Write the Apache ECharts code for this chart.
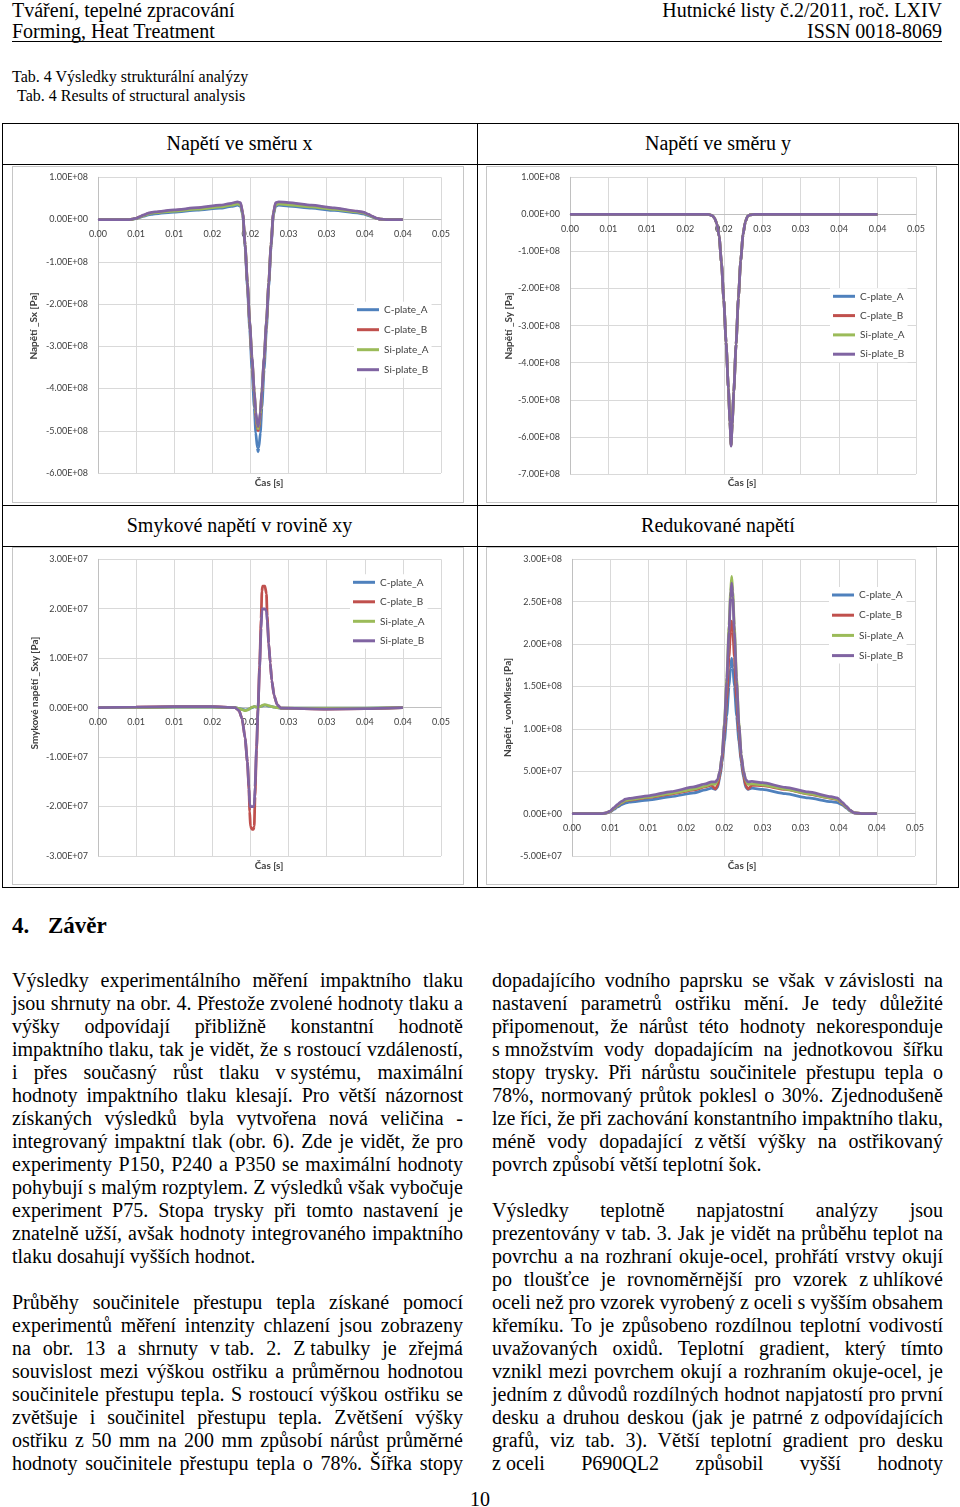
<!DOCTYPE html>
<html><head><meta charset="utf-8">
<script src="https://cdn.jsdelivr.net/npm/echarts@6/dist/echarts.min.js"></script>
<style>
html,body{margin:0;padding:0;background:#fff;}
body{width:960px;height:1507px;position:relative;overflow:hidden;font-family:'Liberation Serif','Times New Roman',serif;color:#000;}
.t{position:absolute;white-space:nowrap;font-size:20px;line-height:23px;}
.bt{position:absolute;white-space:nowrap;font-size:20px;line-height:23px;transform-origin:0 0;}
.nb{word-spacing:0;}
.hl{position:absolute;background:#000;height:1px;}
.vl{position:absolute;background:#000;width:1px;}
.frame{position:absolute;border:1px solid #c6c6c6;box-sizing:border-box;}
.ch{position:absolute;}
</style></head>
<body>
<!-- page header -->
<div class="t" style="left:12px;top:-1px;">Tváření, tepelné zpracování</div>
<div class="t" style="left:12px;top:20px;">Forming, Heat Treatment</div>
<div class="t" style="right:18px;top:-1px;">Hutnické listy č.2/2011, roč. LXIV</div>
<div class="t" style="right:18px;top:20px;">ISSN 0018-8069</div>
<div class="hl" style="left:12px;top:41px;width:930px;"></div>

<div class="t" style="left:12px;top:67px;font-size:16px;line-height:19px;">Tab. 4 Výsledky strukturální analýzy</div>
<div class="t" style="left:17px;top:86px;font-size:16px;line-height:19px;">Tab. 4 Results of structural analysis</div>

<!-- table -->
<div class="hl" style="left:2px;top:123px;width:957px;"></div>
<div class="hl" style="left:2px;top:164px;width:957px;"></div>
<div class="hl" style="left:2px;top:505px;width:957px;"></div>
<div class="hl" style="left:2px;top:546px;width:957px;"></div>
<div class="hl" style="left:2px;top:887px;width:957px;"></div>
<div class="vl" style="left:2px;top:123px;height:765px;"></div>
<div class="vl" style="left:477px;top:123px;height:765px;"></div>
<div class="vl" style="left:958px;top:123px;height:765px;"></div>

<div class="t" style="left:2px;width:475px;text-align:center;top:131.75px;">Napětí ve směru x</div>
<div class="t" style="left:478px;width:480px;text-align:center;top:131.75px;">Napětí ve směru y</div>
<div class="t" style="left:2px;width:475px;text-align:center;top:513.75px;">Smykové napětí v rovině xy</div>
<div class="t" style="left:478px;width:480px;text-align:center;top:513.75px;">Redukované napětí</div>

<div class="frame" style="left:12px;top:166px;width:452px;height:337px;"></div>
<div class="frame" style="left:486px;top:166px;width:451px;height:337px;"></div>
<div class="frame" style="left:12px;top:547px;width:452px;height:338px;"></div>
<div class="frame" style="left:486px;top:547px;width:451px;height:338px;"></div>
<div id="c1" class="ch" style="left:13px;top:167px;width:450px;height:335px;"></div>
<div id="c2" class="ch" style="left:487px;top:167px;width:449px;height:335px;"></div>
<div id="c3" class="ch" style="left:13px;top:548px;width:450px;height:336px;"></div>
<div id="c4" class="ch" style="left:487px;top:548px;width:449px;height:336px;"></div>

<div class="t" style="left:12px;top:911.7px;font-size:23px;line-height:27px;font-weight:bold;">4.</div>
<div class="t" style="left:48px;top:911.7px;font-size:23px;line-height:27px;font-weight:bold;">Závěr</div>

<div class="t" style="left:0;width:960px;text-align:center;top:1488px;">10</div>

<script>
// ---------- shared chart data ----------
const SERIES_NAMES = ['C-plate_A', 'C-plate_B', 'Si-plate_A', 'Si-plate_B'];
const COLORS = ['#4F81BD', '#C0504D', '#9BBB59', '#8064A2'];
const X_TICK_LABELS = ['0.00', '0.01', '0.01', '0.02', '0.02', '0.03', '0.03', '0.04', '0.04', '0.05'];

// ---------- Napětí ve směru x (Sx) ----------
const sxTime = [0, 0.002, 0.004, 0.0045, 0.005, 0.0055, 0.006, 0.0065, 0.007, 0.0075, 0.010, 0.013, 0.016, 0.0175, 0.0183, 0.0187, 0.0190, 0.0193, 0.0196, 0.0199, 0.0202, 0.0205, 0.0207, 0.0209, 0.0210, 0.0211, 0.0213, 0.0215, 0.0218, 0.0221, 0.0224, 0.0227, 0.0230, 0.0233, 0.0237, 0.025, 0.028, 0.031, 0.034, 0.0348, 0.0355, 0.036, 0.0365, 0.037, 0.038, 0.040];
const sxCA = [0, 0, 0, 0.05e7, 0.2e7, 0.5e7, 0.8e7, 1.05e7, 1.25e7, 1.35e7, 1.75e7, 2.2e7, 2.7e7, 3.1e7, 3.4e7, 3.2e7, 1.0e7, -6.5e7, -1.6e8, -2.6e8, -3.55e8, -4.45e8, -5.05e8, -5.4e8, -5.5e8, -5.4e8, -5.05e8, -4.45e8, -3.55e8, -2.6e8, -1.6e8, -6.5e7, 1.0e7, 3.2e7, 3.4e7, 3.2e7, 2.7e7, 2.15e7, 1.6e7, 1.35e7, 0.95e7, 0.6e7, 0.3e7, 0.08e7, 0, 0];
const sxCB = [0, 0, 0, 0.08e7, 0.28e7, 0.65e7, 1.0e7, 1.35e7, 1.6e7, 1.7e7, 2.15e7, 2.65e7, 3.2e7, 3.65e7, 4.0e7, 3.8e7, 1.4e7, -6e7, -1.5e8, -2.45e8, -3.3e8, -4.1e8, -4.65e8, -4.95e8, -5.0e8, -4.95e8, -4.65e8, -4.1e8, -3.3e8, -2.45e8, -1.5e8, -6e7, 1.4e7, 3.8e7, 4.0e7, 3.8e7, 3.25e7, 2.6e7, 1.9e7, 1.65e7, 1.15e7, 0.7e7, 0.33e7, 0.1e7, 0, 0];
const sxSA = [0, 0, 0, 0.07e7, 0.25e7, 0.6e7, 0.95e7, 1.25e7, 1.5e7, 1.6e7, 2.0e7, 2.45e7, 3.0e7, 3.4e7, 3.7e7, 3.5e7, 1.2e7, -6e7, -1.5e8, -2.42e8, -3.28e8, -4.08e8, -4.6e8, -4.9e8, -4.95e8, -4.9e8, -4.6e8, -4.08e8, -3.28e8, -2.42e8, -1.5e8, -6e7, 1.2e7, 3.5e7, 3.7e7, 3.5e7, 3.0e7, 2.4e7, 1.8e7, 1.55e7, 1.1e7, 0.65e7, 0.3e7, 0.09e7, 0, 0];
const sxSB = [0, 0, 0, 0.1e7, 0.3e7, 0.7e7, 1.1e7, 1.45e7, 1.7e7, 1.8e7, 2.3e7, 2.8e7, 3.4e7, 3.85e7, 4.2e7, 4.0e7, 1.5e7, -6e7, -1.5e8, -2.4e8, -3.25e8, -4.05e8, -4.55e8, -4.85e8, -4.9e8, -4.85e8, -4.55e8, -4.05e8, -3.25e8, -2.4e8, -1.5e8, -6e7, 1.5e7, 4.0e7, 4.2e7, 4.0e7, 3.4e7, 2.75e7, 2.0e7, 1.75e7, 1.2e7, 0.75e7, 0.35e7, 0.1e7, 0, 0];
const sxTicks = ['-6.00E+08', '-5.00E+08', '-4.00E+08', '-3.00E+08', '-2.00E+08', '-1.00E+08', '0.00E+00', '1.00E+08'];

// ---------- Napětí ve směru y (Sy) ----------
const syTime = [0, 0.005, 0.010, 0.015, 0.0180, 0.0185, 0.0188, 0.0191, 0.0194, 0.0197, 0.0200, 0.0203, 0.0206, 0.0208, 0.02095, 0.0211, 0.0213, 0.0216, 0.0219, 0.0222, 0.0225, 0.0228, 0.0231, 0.0234, 0.0240, 0.030, 0.035, 0.040];
const syCA = [0, 0, 0, 0, 0, -3e6, -1.0e7, -2.5e7, -6e7, -1.3e8, -2.3e8, -3.45e8, -4.68e8, -5.58e8, -6.2e8, -5.62e8, -4.78e8, -3.5e8, -2.25e8, -1.25e8, -5.5e7, -2e7, -5e6, -1e6, 0, 0, 0, 0];
const syCB = [0, 0, 0, 0, 0, -3e6, -1.0e7, -2.5e7, -6e7, -1.3e8, -2.3e8, -3.45e8, -4.69e8, -5.59e8, -6.22e8, -5.63e8, -4.79e8, -3.5e8, -2.25e8, -1.25e8, -5.5e7, -2e7, -5e6, -1e6, 0, 0, 0, 0];
const sySA = [0, 0, 0, 0, 0, -3e6, -1.0e7, -2.5e7, -6e7, -1.3e8, -2.3e8, -3.45e8, -4.7e8, -5.6e8, -6.23e8, -5.64e8, -4.8e8, -3.5e8, -2.25e8, -1.25e8, -5.5e7, -2e7, -5e6, -1e6, 0, 0, 0, 0];
const sySB = [0, 0, 0, 0, 0, -3e6, -1.0e7, -2.5e7, -6e7, -1.3e8, -2.3e8, -3.45e8, -4.7e8, -5.6e8, -6.25e8, -5.65e8, -4.8e8, -3.5e8, -2.25e8, -1.25e8, -5.5e7, -2e7, -5e6, -1e6, 0, 0, 0, 0];
const syTicks = ['-7.00E+08', '-6.00E+08', '-5.00E+08', '-4.00E+08', '-3.00E+08', '-2.00E+08', '-1.00E+08', '0.00E+00', '1.00E+08'];

// ---------- Smykové napětí v rovině xy (Sxy) ----------
const sxyTime = [0, 0.005, 0.010, 0.015, 0.0180, 0.0185, 0.0189, 0.0193, 0.0196, 0.0198, 0.0199, 0.0200, 0.0202, 0.0204, 0.0205, 0.0206, 0.0208, 0.0210, 0.0212, 0.0214, 0.0215, 0.0216, 0.0219, 0.0221, 0.0222, 0.0224, 0.0226, 0.0228, 0.0231, 0.0235, 0.0240, 0.030, 0.035, 0.040];
const sxyCA = [0, 0, 1e5, 1e5, 0, -2e5, -3e5, -5e5, -4e5, -3e5, -2e5, -1e5, 0, 1e5, 2e5, 2e5, 1e5, 1e5, 2e5, 3e5, 3e5, 4e5, 5e5, 5e5, 4e5, 3e5, 3e5, 2e5, 1e5, 0, -1e5, -1e5, -1e5, 0];
const sxyCB = [0, 1e5, 2e5, 2e5, 0, -6e5, -2.2e6, -6.2e6, -1.1e7, -1.65e7, -2.1e7, -2.4e7, -2.46e7, -2.46e7, -2.4e7, -1.8e7, -8.5e6, 0, 8.5e6, 1.8e7, 2.35e7, 2.46e7, 2.46e7, 2.3e7, 1.85e7, 1.3e7, 9e6, 5.5e6, 2.5e6, 6e5, -1e5, -3e5, -2e5, 0];
const sxySA = [0, 0, 1e5, 1e5, 0, -2e5, -4e5, -6e5, -5e5, -3e5, -2e5, -1e5, 1e5, 2e5, 2e5, 2e5, 1e5, 1e5, 2e5, 3e5, 4e5, 5e5, 6e5, 5e5, 5e5, 4e5, 3e5, 2e5, 1e5, 0, -1e5, -1e5, -1e5, 0];
const sxySB = [0, 1e5, 2e5, 2e5, 0, -6e5, -2.2e6, -6.2e6, -1.1e7, -1.6e7, -1.95e7, -2.0e7, -2.0e7, -2.0e7, -1.97e7, -1.6e7, -8e6, 0, 8e6, 1.6e7, 1.95e7, 2.0e7, 2.0e7, 1.95e7, 1.75e7, 1.3e7, 9e6, 5.5e6, 2.5e6, 6e5, -1e5, -3e5, -2e5, 0];
const sxyTicks = ['-3.00E+07', '-2.00E+07', '-1.00E+07', '0.00E+00', '1.00E+07', '2.00E+07', '3.00E+07'];

// ---------- Redukované napětí (von Mises) ----------
const vmTime = [0, 0.002, 0.004, 0.0045, 0.005, 0.0055, 0.006, 0.0065, 0.007, 0.0075, 0.010, 0.013, 0.016, 0.0175, 0.0183, 0.0188, 0.0191, 0.0194, 0.0197, 0.0200, 0.0203, 0.0206, 0.0208, 0.02095, 0.0211, 0.0213, 0.0216, 0.0219, 0.0222, 0.0225, 0.0228, 0.0231, 0.0236, 0.025, 0.028, 0.031, 0.034, 0.0348, 0.0355, 0.036, 0.0365, 0.037, 0.038, 0.040];
const vmCA = [0, 0, 0, 0.06e7, 0.2e7, 0.5e7, 0.8e7, 1.05e7, 1.25e7, 1.35e7, 1.6e7, 2.0e7, 2.45e7, 2.8e7, 3.0e7, 2.85e7, 3.1e7, 4.3e7, 6e7, 8.5e7, 1.15e8, 1.5e8, 1.72e8, 1.83e8, 1.72e8, 1.5e8, 1.15e8, 8.5e7, 6e7, 4.3e7, 3.1e7, 2.85e7, 3.0e7, 2.85e7, 2.35e7, 1.85e7, 1.4e7, 1.3e7, 1.0e7, 0.65e7, 0.3e7, 0.08e7, 0, 0];
const vmCB = [0, 0, 0, 0.08e7, 0.25e7, 0.6e7, 0.95e7, 1.25e7, 1.5e7, 1.6e7, 1.9e7, 2.3e7, 2.8e7, 3.15e7, 3.35e7, 2.9e7, 3.3e7, 4.6e7, 6.5e7, 9.5e7, 1.35e8, 1.85e8, 2.15e8, 2.27e8, 2.15e8, 1.85e8, 1.35e8, 9.5e7, 6.5e7, 4.6e7, 3.3e7, 2.9e7, 3.35e7, 3.3e7, 2.85e7, 2.3e7, 1.8e7, 1.65e7, 1.15e7, 0.75e7, 0.35e7, 0.1e7, 0, 0];
const vmSA = [0, 0, 0, 0.09e7, 0.27e7, 0.63e7, 1.0e7, 1.3e7, 1.55e7, 1.65e7, 1.95e7, 2.4e7, 2.9e7, 3.25e7, 3.5e7, 3.45e7, 3.9e7, 5e7, 7e7, 1.07e8, 1.6e8, 2.22e8, 2.62e8, 2.8e8, 2.62e8, 2.22e8, 1.6e8, 1.07e8, 7e7, 5e7, 3.9e7, 3.45e7, 3.5e7, 3.4e7, 2.9e7, 2.35e7, 1.85e7, 1.7e7, 1.2e7, 0.78e7, 0.37e7, 0.1e7, 0, 0];
const vmSB = [0, 0, 0, 0.1e7, 0.3e7, 0.7e7, 1.1e7, 1.45e7, 1.7e7, 1.8e7, 2.1e7, 2.6e7, 3.15e7, 3.5e7, 3.75e7, 3.75e7, 4.0e7, 5e7, 7e7, 1.05e8, 1.55e8, 2.15e8, 2.55e8, 2.72e8, 2.55e8, 2.15e8, 1.55e8, 1.05e8, 7e7, 5e7, 4.0e7, 3.75e7, 3.8e7, 3.65e7, 3.1e7, 2.55e7, 2.0e7, 1.85e7, 1.3e7, 0.85e7, 0.4e7, 0.1e7, 0, 0];
const vmTicks = ['-5.00E+07', '0.00E+00', '5.00E+07', '1.00E+08', '1.50E+08', '2.00E+08', '2.50E+08', '3.00E+08'];

const FONT = 'Lato, "Open Sans", sans-serif';

function buildChart(id, c) {
  const el = document.getElementById(id);
  const chart = echarts.init(el, null, {renderer: 'canvas'});
  const gridH = el.clientHeight - c.grid[1] - c.grid[3];
  // move the category (time) axis up to the zero line, as in the Excel original
  const xOffset = -gridH * (0 - c.yMin) / (c.yMax - c.yMin);
  const series = SERIES_NAMES.map((name, k) => ({
    name: name, type: 'line',
    data: c.time.map((t, i) => [t, c.values[k][i]]),
    showSymbol: false, symbol: 'none',
    smooth: 0.2, smoothMonotone: 'x',
    lineStyle: {width: 2.75, color: COLORS[k]},
    itemStyle: {color: COLORS[k]}
  }));
  chart.setOption({
    animation: false,
    textStyle: {fontFamily: FONT},
    grid: {left: c.grid[0], top: c.grid[1], right: c.grid[2], bottom: c.grid[3], containLabel: false},
    xAxis: {
      type: 'value', min: 0, max: 0.045, interval: 0.005, position: 'bottom', offset: xOffset,
      axisLine: {show: true, onZero: false, lineStyle: {color: '#c0c0c0', width: 1}},
      axisTick: {show: false},
      axisLabel: {formatter: v => X_TICK_LABELS[Math.round(v / 0.005)], color: '#404040', fontSize: 9, margin: 10, fontFamily: FONT},
      splitLine: {show: true, lineStyle: {color: '#d9d9d9', width: 1}}
    },
    yAxis: {
      type: 'value', min: c.yMin, max: c.yMax, interval: c.yInt,
      axisLine: {show: true, lineStyle: {color: '#c0c0c0', width: 1}},
      axisTick: {show: false},
      axisLabel: {formatter: v => c.yTicks[Math.round((v - c.yMin) / c.yInt)], color: '#404040', fontSize: 9, margin: 10, fontFamily: FONT},
      splitLine: {show: true, lineStyle: {color: '#d9d9d9', width: 1}}
    },
    legend: {
      orient: 'vertical', left: c.legend[0], top: c.legend[1], itemGap: c.legend[2],
      itemWidth: 22, itemHeight: 3, icon: 'rect', padding: [2, 3],
      backgroundColor: '#fff',
      textStyle: {fontSize: 10, color: '#404040', lineHeight: 12, fontFamily: FONT},
      data: SERIES_NAMES
    },
    graphic: [
      {type: 'text', x: c.yTitlePos[0], y: c.yTitlePos[1], rotation: Math.PI / 2,
       style: {text: c.yTitle, font: 'bold 10px ' + FONT, fill: '#404040', textAlign: 'center', textVerticalAlign: 'middle', align: 'center', verticalAlign: 'middle'}},
      {type: 'text', x: c.xTitlePos[0], y: c.xTitlePos[1],
       style: {text: 'Čas [s]', font: 'bold 10px ' + FONT, fill: '#404040', textAlign: 'center', textVerticalAlign: 'middle', align: 'center', verticalAlign: 'middle'}}
    ],
    series: series
  });
}

buildChart('c1', {time: sxTime, values: [sxCA, sxCB, sxSA, sxSB], yMin: -6e8, yMax: 1e8, yInt: 1e8, yTicks: sxTicks,
  grid: [85, 10.3, 22, 29], legend: [341, 134.7, 8], yTitle: 'Napětí _Sx [Pa]', yTitlePos: [21, 159], xTitlePos: [256, 316]});
buildChart('c2', {time: syTime, values: [syCA, syCB, sySA, sySB], yMin: -7e8, yMax: 1e8, yInt: 1e8, yTicks: syTicks,
  grid: [83, 10.3, 20, 28], legend: [343, 121.3, 7.3], yTitle: 'Napětí _Sy [Pa]', yTitlePos: [22, 159], xTitlePos: [255, 316]});
buildChart('c3', {time: sxyTime, values: [sxyCA, sxyCB, sxySA, sxySB], yMin: -3e7, yMax: 3e7, yInt: 1e7, yTicks: sxyTicks,
  grid: [85, 11.3, 22, 28], legend: [337, 26.3, 7.5], yTitle: 'Smykové napětí _Sxy [Pa]', yTitlePos: [22, 145], xTitlePos: [256, 318]});
buildChart('c4', {time: vmTime, values: [vmCA, vmCB, vmSA, vmSB], yMin: -5e7, yMax: 3e8, yInt: 5e7, yTicks: vmTicks,
  grid: [85, 11.3, 21, 28], legend: [342, 39, 8.2], yTitle: 'Napětí _vonMises [Pa]', yTitlePos: [21, 159.5], xTitlePos: [255, 318]});

// ---------- article text ----------
const leftLines = [
  ['Výsledky experimentálního měření impaktního tlaku', 'j'],
  ['jsou shrnuty na obr. 4. Přestože zvolené hodnoty tlaku a', 'j'],
  ['výšky odpovídají přibližně konstantní hodnotě', 'j'],
  ['impaktního tlaku, tak je vidět, že s rostoucí vzdáleností,', 'j'],
  ['i přes současný růst tlaku v~systému, maximální', 'j'],
  ['hodnoty impaktního tlaku klesají. Pro větší názornost', 'j'],
  ['získaných výsledků byla vytvořena nová veličina -', 'j'],
  ['integrovaný impaktní tlak (obr. 6). Zde je vidět, že pro', 'j'],
  ['experimenty P150, P240 a P350 se maximální hodnoty', 'j'],
  ['pohybují s malým rozptylem. Z výsledků však vybočuje', 'j'],
  ['experiment P75. Stopa trysky při tomto nastavení je', 'j'],
  ['znatelně užší, avšak hodnoty integrovaného impaktního', 'j'],
  ['tlaku dosahují vyšších hodnot.', 'l'],
  null,
  ['Průběhy součinitele přestupu tepla získané pomocí', 'j'],
  ['experimentů měření intenzity chlazení jsou zobrazeny', 'j'],
  ['na obr. 13 a shrnuty v~tab. 2. Z~tabulky je zřejmá', 'j'],
  ['souvislost mezi výškou ostřiku a průměrnou hodnotou', 'j'],
  ['součinitele přestupu tepla. S rostoucí výškou ostřiku se', 'j'],
  ['zvětšuje i součinitel přestupu tepla. Zvětšení výšky', 'j'],
  ['ostřiku z 50 mm na 200 mm způsobí nárůst průměrné', 'j'],
  ['hodnoty součinitele přestupu tepla o 78%. Šířka stopy', 'j']
];
const rightLines = [
  ['dopadajícího vodního paprsku se však v~závislosti na', 'j'],
  ['nastavení parametrů ostřiku mění. Je tedy důležité', 'j'],
  ['připomenout, že nárůst této hodnoty nekoresponduje', 'j'],
  ['s~množstvím vody dopadajícím na jednotkovou šířku', 'j'],
  ['stopy trysky. Při nárůstu součinitele přestupu tepla o', 'j'],
  ['78%, normovaný průtok poklesl o 30%. Zjednodušeně', 'j'],
  ['lze říci, že při zachování konstantního impaktního tlaku,', 'j'],
  ['méně vody dopadající z~větší výšky na ostřikovaný', 'j'],
  ['povrch způsobí větší teplotní šok.', 'l'],
  null,
  ['Výsledky teplotně napjatostní analýzy jsou', 'j'],
  ['prezentovány v tab. 3. Jak je vidět na průběhu teplot na', 'j'],
  ['povrchu a na rozhraní okuje-ocel, prohřátí vrstvy okují', 'j'],
  ['po tloušťce je rovnoměrnější pro vzorek z~uhlíkové', 'j'],
  ['oceli než pro vzorek vyrobený z oceli s vyšším obsahem', 'j'],
  ['křemíku. To je způsobeno rozdílnou teplotní vodivostí', 'j'],
  ['uvažovaných oxidů. Teplotní gradient, který tímto', 'j'],
  ['vznikl mezi povrchem okují a rozhraním okuje-ocel, je', 'j'],
  ['jedním z důvodů rozdílných hodnot napjatostí pro první', 'j'],
  ['desku a druhou deskou (jak je patrné z~odpovídajících', 'j'],
  ['grafů, viz tab. 3). Větší teplotní gradient pro desku', 'j'],
  ['z~oceli P690QL2 způsobil vyšší hodnoty', 'j']
];

function placeLines(lines, x, baseline0, width) {
  lines.forEach((ln, i) => {
    if (!ln) return;
    const txt = ln[0], mode = ln[1];
    const el = document.createElement('div');
    el.className = 'bt';
    el.style.left = x + 'px';
    el.style.top = (baseline0 - 18.25 + 23 * i) + 'px';
    el.innerHTML = txt.split(' ').map(w => w.indexOf('~') >= 0 ? '<span class="nb">' + w.replace(/~/g, '&nbsp;') + '</span>' : w).join(' ');
    document.body.appendChild(el);
    if (mode === 'j') {
      const w = el.getBoundingClientRect().width;
      const n = (txt.match(/ /g) || []).length;
      const ws = (width - w) / n;
      if (ws < -1.5) {
        el.style.transform = 'scaleX(' + (width / w) + ')';
      } else {
        el.style.wordSpacing = ws + 'px';
      }
    }
  });
}
placeLines(leftLines, 12, 987, 451);
placeLines(rightLines, 492, 987, 451);
</script>
</body></html>
